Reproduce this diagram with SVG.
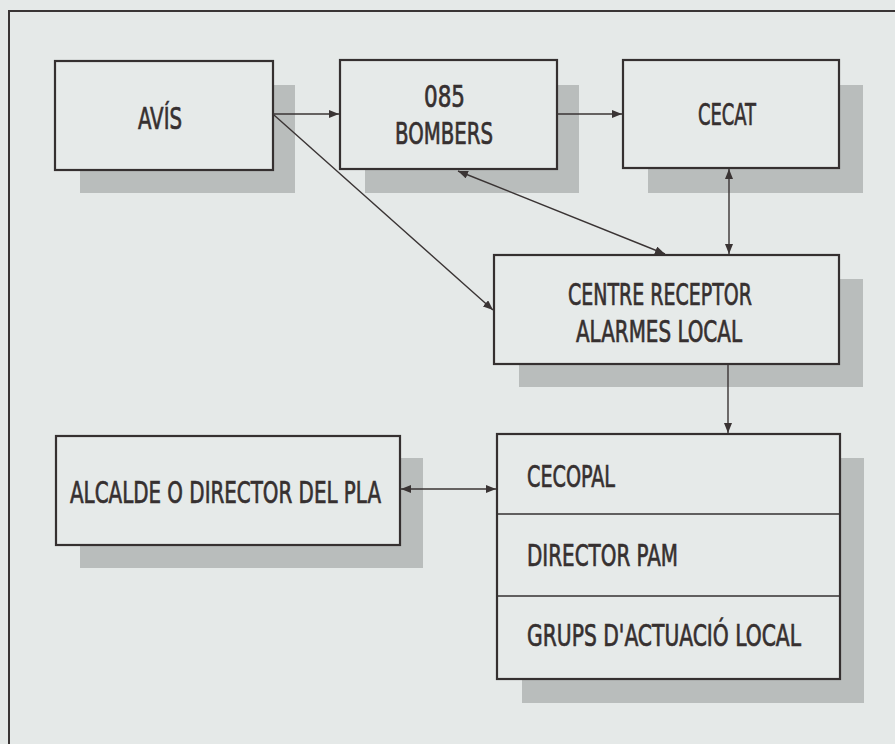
<svg xmlns="http://www.w3.org/2000/svg" width="895" height="744" viewBox="0 0 895 744">
<style>
.bg{fill:#e5e9e8}
.sh{fill:#b9bdbc}
.box{fill:#e6eae9;stroke:#353030;stroke-width:2.2}
.div{stroke:#353030;stroke-width:1.5}
.t{font-family:"DejaVu Sans Condensed","Liberation Sans Narrow","Liberation Sans",sans-serif;font-size:31px;fill:#363030;stroke:#363030;stroke-width:0.7}
.c{fill:none;stroke:#3a3434;stroke-width:1.4}
.frame{fill:none;stroke:#3a3535;stroke-width:2}
</style>
<defs>
<marker id="ah" viewBox="0 0 10 8" refX="10" refY="4" markerWidth="10" markerHeight="8" markerUnits="userSpaceOnUse" orient="auto-start-reverse">
<path d="M0,0 L10,4 L0,8 Z" fill="#3a3434"/>
</marker>
</defs>
<rect class="bg" x="0" y="0" width="895" height="744"/>
<path class="frame" d="M9,744 V11 H895"/>

<g id="avis">
<rect class="sh" x="80" y="85" width="215" height="108"/>
<rect class="box" x="55" y="61" width="218" height="109"/>
<text class="t" transform="translate(138,129) scale(0.74,1)" textLength="59.5" lengthAdjust="spacingAndGlyphs">AVÍS</text>
</g>

<g id="bombers">
<rect class="sh" x="365" y="85" width="214" height="108"/>
<rect class="box" x="340" y="60" width="217" height="109"/>
<text class="t" transform="translate(424,107) scale(0.74,1)" textLength="55.4" lengthAdjust="spacingAndGlyphs">085</text>
<text class="t" transform="translate(395,144) scale(0.74,1)" textLength="132.4" lengthAdjust="spacingAndGlyphs">BOMBERS</text>
</g>

<g id="cecat">
<rect class="sh" x="648" y="85" width="215" height="108"/>
<rect class="box" x="623" y="60" width="216" height="108"/>
<text class="t" transform="translate(698,125) scale(0.74,1)" textLength="78.4" lengthAdjust="spacingAndGlyphs">CECAT</text>
</g>

<g id="centre">
<rect class="sh" x="519" y="279" width="344" height="108"/>
<rect class="box" x="494" y="255" width="345" height="109"/>
<text class="t" transform="translate(568,305) scale(0.74,1)" textLength="248.6" lengthAdjust="spacingAndGlyphs">CENTRE RECEPTOR</text>
<text class="t" transform="translate(576,342) scale(0.74,1)" textLength="224.3" lengthAdjust="spacingAndGlyphs">ALARMES LOCAL</text>
</g>

<g id="alcalde">
<rect class="sh" x="80" y="458" width="343" height="110"/>
<rect class="box" x="56" y="436" width="344" height="109"/>
<text class="t" transform="translate(70,503) scale(0.74,1)" textLength="420.3" lengthAdjust="spacingAndGlyphs">ALCALDE O DIRECTOR DEL PLA</text>
</g>

<g id="cecopal">
<rect class="sh" x="522" y="458" width="342" height="245"/>
<rect class="box" x="497" y="434" width="343" height="245"/>
<line class="div" x1="497" y1="514" x2="840" y2="514"/>
<line class="div" x1="497" y1="596" x2="840" y2="596"/>
<text class="t" transform="translate(527,487) scale(0.74,1)" textLength="118.9" lengthAdjust="spacingAndGlyphs">CECOPAL</text>
<text class="t" transform="translate(527,566) scale(0.74,1)" textLength="204" lengthAdjust="spacingAndGlyphs">DIRECTOR PAM</text>
<text class="t" transform="translate(527,646) scale(0.74,1)" textLength="370.3" lengthAdjust="spacingAndGlyphs">GRUPS D'ACTUACIÓ LOCAL</text>
</g>

<g id="connectors">
<line class="c" x1="273" y1="114" x2="339" y2="114" marker-end="url(#ah)"/>
<line class="c" x1="557" y1="114" x2="622" y2="114" marker-end="url(#ah)"/>
<line class="c" x1="729" y1="169" x2="729" y2="254" marker-start="url(#ah)" marker-end="url(#ah)"/>
<line class="c" x1="274" y1="115" x2="493" y2="310" marker-end="url(#ah)"/>
<line class="c" x1="458" y1="171" x2="665" y2="254" marker-start="url(#ah)" marker-end="url(#ah)"/>
<line class="c" x1="728" y1="365" x2="728" y2="433" marker-end="url(#ah)"/>
<line class="c" x1="401" y1="489" x2="496" y2="489" marker-start="url(#ah)" marker-end="url(#ah)"/>
</g>
</svg>
